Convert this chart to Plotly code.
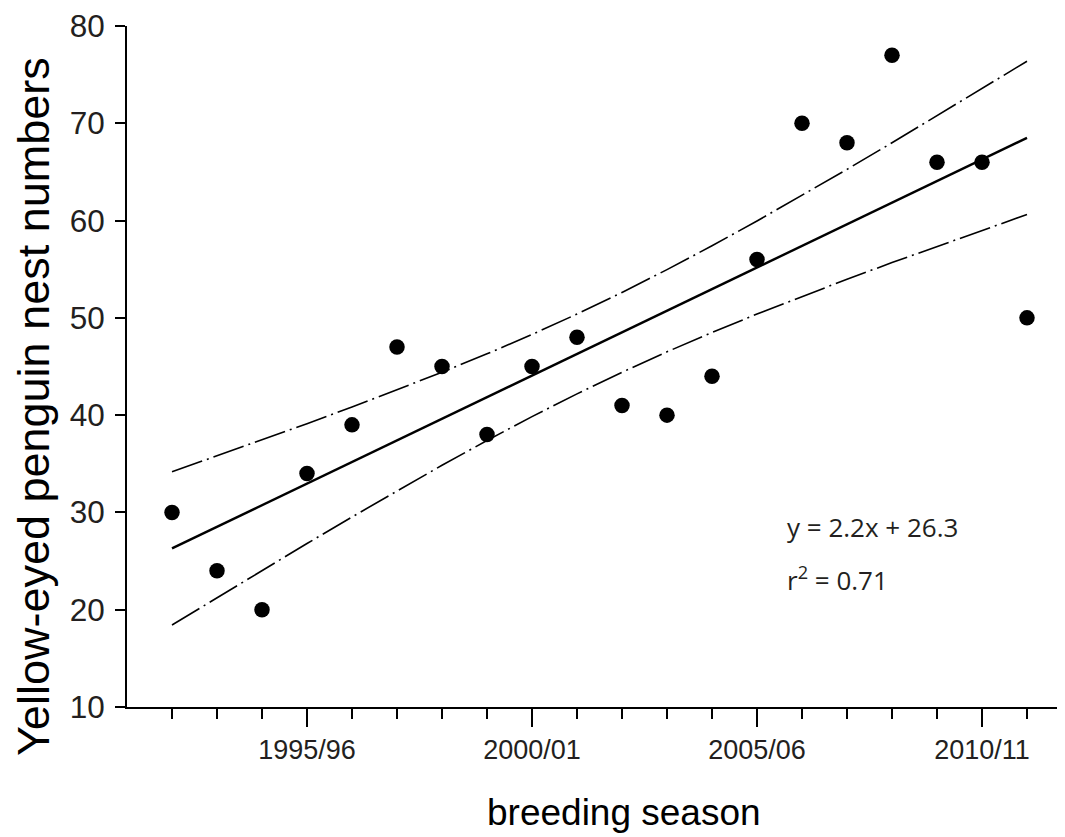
import numpy as np
import plotly.graph_objects as go

# ---- data ----
seasons = [1992, 1993, 1994, 1995, 1996, 1997, 1998, 1999, 2000, 2001,
           2002, 2003, 2004, 2005, 2006, 2007, 2008, 2009, 2010, 2011]
nests = [30, 24, 20, 34, 39, 47, 45, 38, 45, 48,
         41, 40, 44, 56, 70, 68, 77, 66, 66, 50]
major_ticks = [1995, 2000, 2005, 2010]
major_labels = ["1995/96", "2000/01", "2005/06", "2010/11"]
y_ticks = [10, 20, 30, 40, 50, 60, 70, 80]
eq_text = "y = 2.2x + 26.3"
r2_text = "r<sup>2</sup> = 0.71"

# ---- regression and 95% confidence band of the mean, from the data ----
x = np.array(seasons, dtype=float)
y = np.array(nests, dtype=float)
xi = x - x[0]
slope, intercept = np.polyfit(xi, y, 1)
fit = intercept + slope * xi
n = len(xi)
s = np.sqrt(np.sum((y - fit) ** 2) / (n - 2))
sxx = np.sum((xi - xi.mean()) ** 2)
t975 = 2.100922  # t(0.975, df=18)
half = t975 * s * np.sqrt(1.0 / n + (xi - xi.mean()) ** 2 / sxx)
upper = fit + half
lower = fit - half

ink = "#231f20"
W, H = 1049, 829
L, T = 119, 18
plot_bottom = 699
B = H - plot_bottom
PH = plot_bottom - T
fig = go.Figure()
band_dash = "32px,5px,2px,5px"
fig.add_trace(go.Scatter(x=seasons, y=upper, mode="lines",
                         line=dict(color="#000000", width=1.6, dash=band_dash),
                         hoverinfo="skip"))
fig.add_trace(go.Scatter(x=seasons, y=lower, mode="lines",
                         line=dict(color="#000000", width=1.6, dash=band_dash),
                         hoverinfo="skip"))
fig.add_trace(go.Scatter(x=seasons, y=fit, mode="lines",
                         line=dict(color="#000000", width=2.4)))
fig.add_trace(go.Scatter(x=seasons, y=nests, mode="markers",
                         marker=dict(color="#000000", size=15.5)))

minor_vals = [v for v in seasons if v not in major_ticks]

fig.update_layout(
    width=W, height=H,
    margin=dict(l=L, r=0, t=T, b=B, autoexpand=False),
    paper_bgcolor="white", plot_bgcolor="white",
    showlegend=False,
    font=dict(family="Liberation Sans, Arial, sans-serif", color=ink),
    xaxis=dict(
        range=[1991, 1991 + (W - L) / 45.0],
        showgrid=False, zeroline=False,
        showline=True, linecolor="#000000", linewidth=2,
        tickmode="array", tickvals=major_ticks, ticktext=major_labels,
        ticks="outside", ticklen=18, tickwidth=2, tickcolor="#000000",
        tickfont=dict(size=27, color=ink),
        minor=dict(tickmode="array", tickvals=minor_vals, ticks="outside",
                   ticklen=10, tickwidth=1.6, tickcolor="#000000", showgrid=False),
    ),
    yaxis=dict(
        range=[10, 80],
        showgrid=False, zeroline=False,
        showline=True, linecolor="#000000", linewidth=2,
        tickmode="array", tickvals=y_ticks,
        ticks="outside", ticklen=10, tickwidth=2, tickcolor="#000000",
        ticklabelstandoff=4,
        tickfont=dict(size=31.5, color=ink),
    ),
)

fig.add_annotation(text="breeding season", xref="paper", yref="paper",
                   x=(616 - L) / (W - L), y=-(805 - plot_bottom) / PH,
                   xanchor="center", yanchor="middle",
                   showarrow=False, font=dict(size=37, color="#000000"))
fig.add_annotation(text="Yellow-eyed penguin nest numbers", xref="paper", yref="paper",
                   x=(25 - L) / (W - L), y=0.4405, xanchor="center", yanchor="middle",
                   textangle=-90,
                   showarrow=False, font=dict(size=45, color="#000000"))
fig.add_annotation(text=eq_text, xref="x", yref="y", x=2005.62, y=28.5,
                   xanchor="left", yanchor="middle", showarrow=False,
                   font=dict(family="Open Sans, sans-serif", size=26, color=ink))
fig.add_annotation(text=r2_text, xref="x", yref="y", x=2005.62, y=23.2,
                   xanchor="left", yanchor="middle", showarrow=False,
                   font=dict(family="Open Sans, sans-serif", size=26, color=ink))

fig.write_html("out.html")
